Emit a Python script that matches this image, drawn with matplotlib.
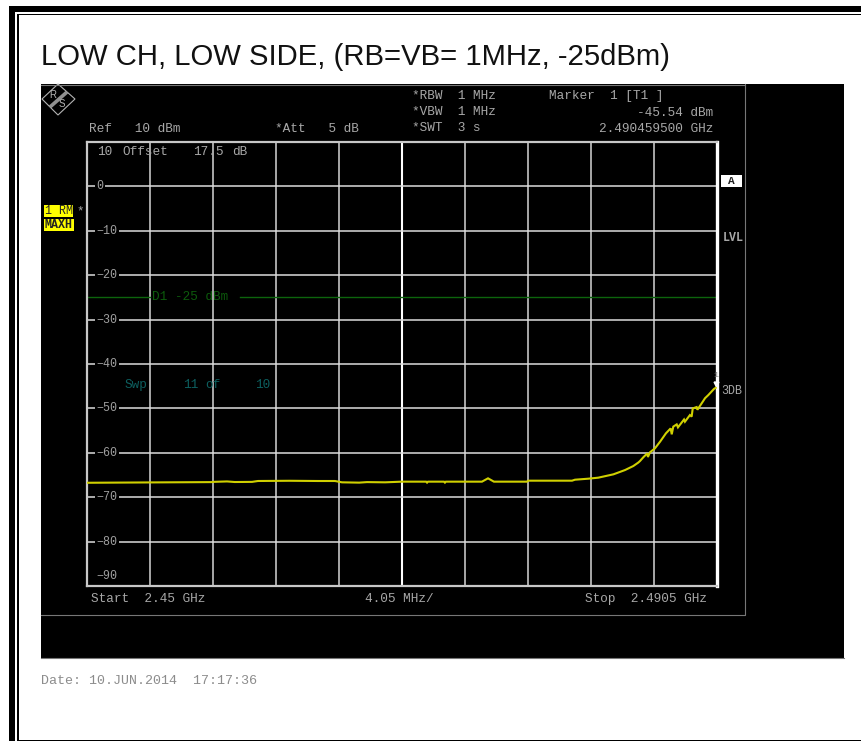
import matplotlib
matplotlib.use('Agg')
import matplotlib.pyplot as plt
from matplotlib.patches import Polygon, Rectangle

W, H = 862, 741

title = "LOW CH, LOW SIDE, (RB=VB= 1MHz, -25dBm)"
level_ticks = [0, -10, -20, -30, -40, -50, -60, -70, -80]
bottom_label = -90
start_ghz = 2.45
stop_ghz = 2.4905
step_ghz = 0.00405
limit_dbm = -25
marker_ghz = 2.4904595
marker_dbm = -45.54

# trace
trace_ghz = [2.45, 2.45521, 2.45804, 2.45810, 2.45900, 2.45950, 2.46061, 2.46099, 2.46300, 2.46485,
             2.46594, 2.46639, 2.46750, 2.46800, 2.46916, 2.47025, 2.47180, 2.47186, 2.47192, 2.47295,
             2.47301, 2.47307, 2.47539, 2.47578, 2.47616, 2.47829, 2.47835, 2.48118, 2.48137, 2.48223,
             2.48287, 2.48384, 2.48459, 2.48512, 2.48544, 2.48555, 2.48576, 2.48602, 2.48606, 2.48619,
             2.48651, 2.48684, 2.48722, 2.48752, 2.48759, 2.48769, 2.48791, 2.48799, 2.48838, 2.48844,
             2.48876, 2.48887, 2.48894, 2.48919, 2.48924, 2.48962, 2.48973, 2.48994, 2.49031, 2.4905]
trace_dbm = [-66.75, -66.65, -66.6, -66.55, -66.45, -66.58, -66.55, -66.35, -66.3, -66.35,
             -66.35, -66.65, -66.72, -66.6, -66.65, -66.5, -66.5, -66.72, -66.5, -66.5,
             -66.72, -66.5, -66.5, -65.75, -66.5, -66.5, -66.28, -66.28, -66.06, -65.83,
             -65.6, -64.85, -63.88, -62.98, -62.2, -61.85, -61.02, -60.12, -60.95, -59.9,
             -59.0, -57.5, -55.6, -54.5, -55.84, -54.1, -53.6, -54.27, -52.5, -53.0,
             -51.5, -51.86, -50.0, -49.7, -50.3, -48.3, -47.7, -47.0, -45.6, -45.2]

mono = 'Liberation Mono'
grey = '#a8a8a8'

fig = plt.figure(figsize=(W / 100, H / 100), dpi=100, facecolor='white')

# page and black instrument panel, in pixels
bg = fig.add_axes([0, 0, 1, 1])
bg.set_xlim(0, W)
bg.set_ylim(H, 0)
bg.axis('off')

bg.add_patch(Rectangle((9, 6), W - 9, 6, color='black', lw=0))
bg.add_patch(Rectangle((9, 6), 6, H - 6, color='black', lw=0))
bg.add_patch(Rectangle((17.5, 13.5), W - 17.5, 1.5, color='black', lw=0))
bg.add_patch(Rectangle((17.5, 13.5), 1.5, H - 13.5, color='black', lw=0))
bg.add_patch(Rectangle((17.5, 739.5), W - 17.5, 1.5, color='black', lw=0))

bg.text(41, 57, title, fontsize=21.1, family='Liberation Sans', color='#111111', va='center', ha='left')

bg.add_patch(Rectangle((41, 84), 803, 574, color='black', lw=0))
bg.plot([41, 745], [84.5, 84.5], color='#777777', lw=0.8)
bg.plot([41, 844], [658, 658], color='#777777', lw=0.8)
bg.plot([41, 745, 745], [615, 615, 84], color='#777777', lw=0.8)

# R&S logo
bg.add_patch(Polygon([[42, 99], [58, 84], [75, 99], [58, 115]], fill=False, ec='#b4b4b4', lw=0.8))
bg.plot([50, 67], [107, 92], color='#909090', lw=2.6, solid_capstyle='butt')
bg.text(53, 94.5, 'R', fontsize=7, family='Liberation Sans', color='#b4b4b4', ha='center', va='center')
bg.text(62, 104, 'S', fontsize=7, family='Liberation Sans', color='#b4b4b4', ha='center', va='center')

header = [
    (89, 129, "Ref   10 dBm", 'left'),
    (275, 129, "*Att   5 dB", 'left'),
    (412, 96, "*RBW  1 MHz", 'left'),
    (412, 112, "*VBW  1 MHz", 'left'),
    (412, 128, "*SWT  3 s", 'left'),
    (549, 96, "Marker  1 [T1 ]", 'left'),
    (713, 113, "-45.54 dBm", 'right'),
    (713, 129, "2.490459500 GHz", 'right'),
    (91, 599, "Start  2.45 GHz", 'left'),
    (365, 599, "4.05 MHz/", 'left'),
    (585, 599, "Stop  2.4905 GHz", 'left'),
]
for x, y, s, ha in header:
    bg.text(x, y, s, family=mono, fontsize=9.2, color=grey, ha=ha, va='center')

bg.text(41, 681, "Date: 10.JUN.2014  17:17:36", family=mono, fontsize=9.6, color='#8c8c8c', va='center')

# side labels
bg.add_patch(Rectangle((44, 205), 29, 12, color='#ffff00', lw=0))
bg.add_patch(Rectangle((44, 219), 30.5, 12, color='#ffff00', lw=0))
bg.text(45, 211, "1 RM", family=mono, fontsize=8.4, color='#222222', ha='left', va='center')
bg.text(59, 225.5, "MAXH", family=mono, fontsize=8.4, color='#222222', ha='center', va='center', weight='bold')
bg.text(80, 211, "*", family=mono, fontsize=9, color=grey, ha='center', va='center')
bg.add_patch(Rectangle((721, 175), 21, 12, color='white', lw=0))
bg.text(731.5, 181.5, "A", family=mono, fontsize=8, color='#222222', ha='center', va='center', weight='bold')
bg.text(733, 238, "LVL", family=mono, fontsize=8.4, color=grey, ha='center', va='center', weight='bold')
bg.text(732, 391, "3DB", family=mono, fontsize=8.4, color=grey, ha='center', va='center')

# the plot itself
ax = fig.add_axes([87 / W, 1 - 586 / H, 630 / W, 444 / H], facecolor='black')
ax.set_xlim(start_ghz, stop_ghz)
ax.set_ylim(-90, 10)
ax.set_xticks([])
ax.set_yticks([])
for side, spine in ax.spines.items():
    spine.set_color('#c8c8c8')
    spine.set_linewidth(1.6)
ax.spines['right'].set_color('white')
ax.spines['right'].set_linewidth(2.4)

for i in range(1, 10):
    f = start_ghz + i * step_ghz
    if i == 5:
        ax.axvline(f, color='white', lw=1.5, zorder=1)
    else:
        ax.axvline(f, color='#c4c4c4', lw=1.2, zorder=1)
for lvl in level_ticks:
    ax.axhline(lvl, color='#dcdcdc', lw=1.1, zorder=1)

yt = ax.get_yaxis_transform()
for lvl in level_ticks:
    s = str(lvl).replace('-', '\u2212')
    ax.text(9.5 / 630, lvl, s, transform=yt, family=mono, fontsize=8.4, color='#a0a0a0', ha='left',
            va='center', zorder=2, bbox=dict(facecolor='black', edgecolor='none', pad=1))
ax.text(9.5 / 630, bottom_label + 2.2, str(bottom_label).replace('-', '\u2212'), transform=yt, family=mono,
        fontsize=8.4, color='#a0a0a0', ha='left', va='center', zorder=2)

for px, s in [(10, "10"), (35, "Offset"), (106, "17.5"), (145, "dB")]:
    ax.text(px / 630, 7.7, s, transform=yt, family=mono, fontsize=9.2, color=grey, va='center', zorder=4)

# display line and faint labels
ax.plot([start_ghz, start_ghz + step_ghz], [limit_dbm, limit_dbm], color='#0c640c', lw=1, zorder=2)
ax.plot([2.45984, stop_ghz], [limit_dbm, limit_dbm], color='#0c640c', lw=1, zorder=2)
ax.text(65 / 630, limit_dbm, "D1 -25 dBm", transform=yt, family=mono, fontsize=9.2, color='#0c5a0c', va='center', zorder=3)
for px, s in [(38, "Swp"), (96, "11"), (118, "of"), (168, "10")]:
    ax.text(px / 630, -44.7, s, transform=yt, family=mono, fontsize=9.2, color='#0d5f5f', va='center', zorder=3)

ax.plot(trace_ghz, trace_dbm, color='#d0d000', lw=1.5, zorder=5, solid_joinstyle='miter')
ax.plot([marker_ghz], [marker_dbm + 1.1], marker='v', ms=3.5, color='white', ls='none', zorder=6, clip_on=False)
ax.annotate('1', (marker_ghz, marker_dbm + 3), fontsize=6, family=mono, color='#808080', ha='center', va='center', zorder=6)

fig.savefig('out.png', dpi=100, facecolor='white')
